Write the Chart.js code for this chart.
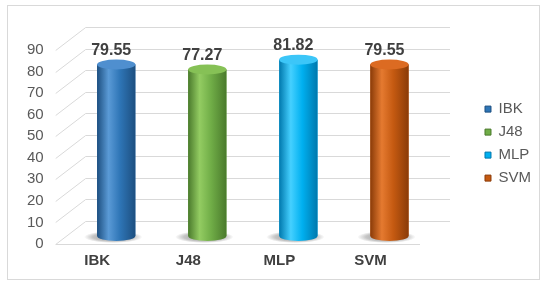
<!DOCTYPE html>
<html>
<head>
<meta charset="utf-8">
<script src="https://cdn.jsdelivr.net/npm/chart.js@4.4.0/dist/chart.umd.min.js"></script>
<style>
  body { margin: 0; background: #fff; }
  #wrap { position: relative; width: 550px; height: 286px; }
  #frame { position: absolute; left: 7px; top: 5px; width: 531px; height: 273px; border: 1px solid #d9d9d9; pointer-events: none; }
  canvas { position: absolute; left: 0; top: 0; }
</style>
</head>
<body>
<div id="wrap">
  <canvas id="chart" width="550" height="286"></canvas>
  <div id="frame"></div>
</div>
<script>
const categories = ['IBK', 'J48', 'MLP', 'SVM'];
const accuracy = [79.55, 77.27, 81.82, 79.55];
const yTicks = [0, 10, 20, 30, 40, 50, 60, 70, 80, 90];

const baseColors  = ['#2e75b6', '#70ad47', '#00b0f0', '#c55a11'];
const lightColors = ['#5a9ad6', '#93cc62', '#45d0ff', '#e57a30'];
const darkColors  = ['#1d4f80', '#4a7a2c', '#0078ad', '#8a3b08'];
const topColors   = ['#4f8fcf', '#86c156', '#3cc6f8', '#dc6b22'];

const FONT = "'Liberation Sans', Arial, sans-serif";

// fake 3d walls: front edge, diagonal and back wall for every tick
const wallPlugin = {
  id: 'wall',
  beforeDatasetsDraw(chart) {
    const { ctx, chartArea } = chart;
    const y = chart.scales.y;
    const depth = 15;
    ctx.save();
    ctx.strokeStyle = '#d9d9d9';
    ctx.lineWidth = 1;
    yTicks.forEach(v => {
      const py = Math.round(y.getPixelForValue(v)) + 0.5;
      ctx.beginPath();
      ctx.moveTo(chartArea.left - depth, py + 8);
      ctx.lineTo(chartArea.left + depth, py - 15);
      ctx.lineTo(chartArea.right + depth, py - 15);
      ctx.stroke();
    });
    const p0 = Math.round(y.getPixelForValue(0)) + 0.5;
    ctx.beginPath();
    ctx.moveTo(chartArea.left - depth, p0 + 8);
    ctx.lineTo(chartArea.right - depth, p0 + 8);
    ctx.stroke();

    // base shadows
    const meta = chart.getDatasetMeta(0);
    meta.data.forEach(bar => {
      const rx = bar.width / 2 + 10, ry = 6;
      ctx.save();
      ctx.translate(bar.x - 3, bar.base + 1);
      ctx.scale(1, ry / rx);
      const g = ctx.createRadialGradient(0, 0, 0, 0, 0, rx);
      g.addColorStop(0, 'rgba(60,60,60,0.55)');
      g.addColorStop(0.7, 'rgba(60,60,60,0.3)');
      g.addColorStop(1, 'rgba(60,60,60,0)');
      ctx.fillStyle = g;
      ctx.beginPath();
      ctx.arc(0, 0, rx, 0, Math.PI * 2);
      ctx.fill();
      ctx.restore();
    });
    ctx.restore();
  }
};

// turn the flat bars into cylinders and put the values on top
const cylinderPlugin = {
  id: 'cylinder',
  afterDatasetsDraw(chart) {
    const { ctx } = chart;
    const meta = chart.getDatasetMeta(0);
    meta.data.forEach((bar, i) => {
      const w = bar.width, x0 = bar.x - w / 2, x1 = bar.x + w / 2;
      const top = bar.y, base = bar.base, ry = 5;
      ctx.save();
      const g = ctx.createLinearGradient(x0, 0, x1, 0);
      g.addColorStop(0, darkColors[i]);
      g.addColorStop(0.3, lightColors[i]);
      g.addColorStop(0.6, baseColors[i]);
      g.addColorStop(1, darkColors[i]);
      ctx.fillStyle = g;
      ctx.beginPath();
      ctx.moveTo(x0, top);
      ctx.lineTo(x0, base);
      ctx.ellipse(bar.x, base, w / 2, ry, 0, Math.PI, 0, true);
      ctx.lineTo(x1, top);
      ctx.closePath();
      ctx.fill();

      ctx.fillStyle = topColors[i];
      ctx.beginPath();
      ctx.ellipse(bar.x, top, w / 2, ry, 0, 0, Math.PI * 2);
      ctx.fill();

      ctx.fillStyle = '#404040';
      ctx.font = 'bold 16px ' + FONT;
      ctx.textAlign = 'center';
      ctx.textBaseline = 'middle';
      ctx.fillText(accuracy[i].toFixed(2), bar.x - 5, top - 14);
      ctx.restore();
    });
  }
};

new Chart(document.getElementById('chart'), {
  type: 'bar',
  data: {
    labels: categories,
    datasets: [{
      label: 'Accuracy',
      data: accuracy,
      backgroundColor: baseColors,
      borderWidth: 0,
      barPercentage: 0.42,
      categoryPercentage: 1
    }]
  },
  options: {
    responsive: false,
    animation: false,
    layout: { padding: { top: 42, left: 0, right: 9, bottom: 0 } },
    scales: {
      x: {
        grid: { display: false, drawTicks: false },
        border: { display: false },
        ticks: {
          padding: 16,
          labelOffset: -19,
          color: '#404040',
          font: { family: FONT, size: 15, weight: 'bold' }
        }
      },
      y: {
        min: 0,
        max: 90,
        afterBuildTicks: s => { s.ticks = yTicks.map(v => ({ value: v })); },
        grid: { display: false, drawTicks: false },
        border: { display: false },
        ticks: {
          autoSkip: false,
          padding: 27,
          labelOffset: 8,
          color: '#595959',
          font: { family: FONT, size: 15 }
        }
      },
      pad: {
        type: 'linear',
        position: 'right',
        display: true,
        grid: { display: false, drawTicks: false },
        border: { display: false },
        ticks: { display: false },
        afterFit: s => { s.width = 42; }
      }
    },
    plugins: {
      legend: {
        position: 'right',
        fullSize: false,
        align: 'center',
        title: { display: true, text: '', padding: 4, font: { size: 1 } },
        labels: {
          boxWidth: 6,
          boxHeight: 6,
          padding: 8,
          color: '#595959',
          font: { family: FONT, size: 15 },
          generateLabels: () => categories.map((c, i) => ({
            text: c,
            fillStyle: baseColors[i],
            strokeStyle: darkColors[i],
            lineWidth: 1,
            fontColor: '#595959',
            hidden: false,
            index: i
          }))
        }
      },
      tooltip: { enabled: false }
    }
  },
  plugins: [wallPlugin, cylinderPlugin]
});
</script>
</body>
</html>
